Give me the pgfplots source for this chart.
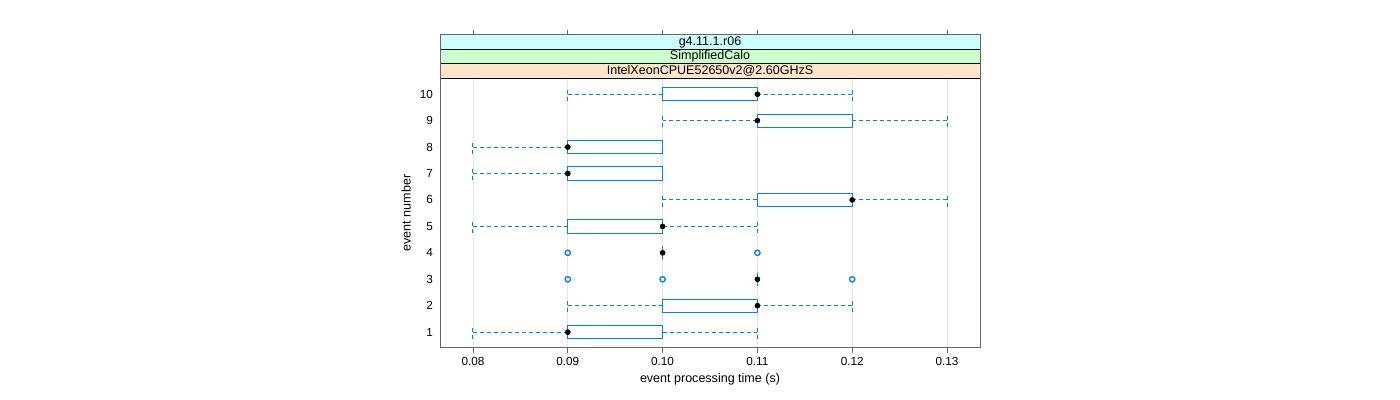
\documentclass[border=0pt]{standalone}
\usepackage{fontspec}
\setmainfont{Liberation Sans}
\usepackage{pgfplots}
\pgfplotsset{compat=1.18}
\usepgfplotslibrary{statistics}
\definecolor{boxblue}{HTML}{0080FF}
\definecolor{stripcyan}{HTML}{CCFFFF}
\definecolor{stripgreen}{HTML}{CCFFCC}
\definecolor{strippeach}{HTML}{FFE5CC}

\pgfplotsset{
  bw/.style={
    draw=boxblue, line width=0.75pt,
    boxplot/box extend=0.5,
    boxplot/whisker extend=0.5,
    boxplot/every whisker/.style={dash pattern=on 3pt off 2.25pt},
    /pgfplots/boxplot/draw/median/.code={},
  },
}

\begin{document}
\begin{tikzpicture}
\path[use as bounding box] (0,0) rectangle (1050pt,300pt);
\begin{axis}[
    at={(330pt,39pt)}, anchor=south west,
    scale only axis,
    width=405pt, height=234.75pt,
    xmin=0.07652, xmax=0.13348,
    ymin=0.4, ymax=12.24,
    xtick={0.08,0.09,0.10,0.11,0.12,0.13},
    xticklabels={0.08,0.09,0.10,0.11,0.12,0.13},
    ytick={1,2,3,4,5,6,7,8,9,10},
    yticklabels={1,2,3,4,5,6,7,8,9,10},
    xtick pos=both, ytick pos=left,
    tick align=outside,
    major tick length=3.75pt,
    ytick style={draw=none},
    tick style={black!60, line width=0.6pt},
    axis line style={black!60, line width=0.75pt},
    xmajorgrids,
    grid style={black!10, line width=0.6pt},
    tick label style={font=\fontsize{8.8}{10}\selectfont},
    yticklabel style={xshift=2pt},
    label style={font=\fontsize{9.4}{11}\selectfont},
    xlabel={event processing time (s)},
    ylabel={event number},
    ylabel style={at={(ticklabel cs:0.431)}},
    xlabel style={yshift=1pt},
    clip=false,
]
% event 10 .. 1
\addplot[bw, boxplot prepared={draw position=10, lower whisker=0.09, lower quartile=0.10, median=0.11, upper quartile=0.11, upper whisker=0.12}] coordinates {};
\addplot[bw, boxplot prepared={draw position=9, lower whisker=0.10, lower quartile=0.11, median=0.11, upper quartile=0.12, upper whisker=0.13}] coordinates {};
\addplot[bw, boxplot prepared={draw position=8, lower whisker=0.08, lower quartile=0.09, median=0.09, upper quartile=0.10, upper whisker=0.10}] coordinates {};
\addplot[bw, boxplot prepared={draw position=7, lower whisker=0.08, lower quartile=0.09, median=0.09, upper quartile=0.10, upper whisker=0.10}] coordinates {};
\addplot[bw, boxplot prepared={draw position=6, lower whisker=0.10, lower quartile=0.11, median=0.12, upper quartile=0.12, upper whisker=0.13}] coordinates {};
\addplot[bw, boxplot prepared={draw position=5, lower whisker=0.08, lower quartile=0.09, median=0.10, upper quartile=0.10, upper whisker=0.11}] coordinates {};
\addplot[bw, boxplot prepared={draw position=4, lower whisker=0.10, lower quartile=0.10, median=0.10, upper quartile=0.10, upper whisker=0.10}] coordinates {};
\addplot[bw, boxplot prepared={draw position=3, lower whisker=0.11, lower quartile=0.11, median=0.11, upper quartile=0.11, upper whisker=0.11}] coordinates {};
\addplot[bw, boxplot prepared={draw position=2, lower whisker=0.09, lower quartile=0.10, median=0.11, upper quartile=0.11, upper whisker=0.12}] coordinates {};
\addplot[bw, boxplot prepared={draw position=1, lower whisker=0.08, lower quartile=0.09, median=0.09, upper quartile=0.10, upper whisker=0.11}] coordinates {};

% outliers
\addplot[only marks, mark=o, mark size=2pt, boxblue, line width=1pt] coordinates {
  (0.09,4) (0.11,4) (0.09,3) (0.10,3) (0.12,3)
};
% medians
\addplot[only marks, mark=*, mark size=1.9pt, black] coordinates {
  (0.11,10) (0.11,9) (0.09,8) (0.09,7) (0.12,6)
  (0.10,5) (0.10,4) (0.11,3) (0.11,2) (0.09,1)
};

% strips
\fill[strippeach] (axis cs:0.07652,10.6) rectangle (axis cs:0.13348,11.147);
\fill[stripgreen] (axis cs:0.07652,11.147) rectangle (axis cs:0.13348,11.693);
\fill[stripcyan] (axis cs:0.07652,11.693) rectangle (axis cs:0.13348,12.24);
\draw[black, line width=0.75pt] (axis cs:0.07652,10.6) -- (axis cs:0.13348,10.6)
  (axis cs:0.07652,11.147) -- (axis cs:0.13348,11.147)
  (axis cs:0.07652,11.693) -- (axis cs:0.13348,11.693);
\draw[black!60, line width=0.75pt] (axis cs:0.07652,0.4) rectangle (axis cs:0.13348,12.24);
\node[font=\fontsize{9.4}{10}\selectfont] at (axis cs:0.105,10.8735) {IntelXeonCPUE52650v2@2.60GHzS};
\node[font=\fontsize{9.4}{10}\selectfont] at (axis cs:0.105,11.42) {SimplifiedCalo};
\node[font=\fontsize{9.4}{10}\selectfont] at (axis cs:0.105,11.9665) {g4.11.1.r06};
\end{axis}
\end{tikzpicture}
\end{document}
